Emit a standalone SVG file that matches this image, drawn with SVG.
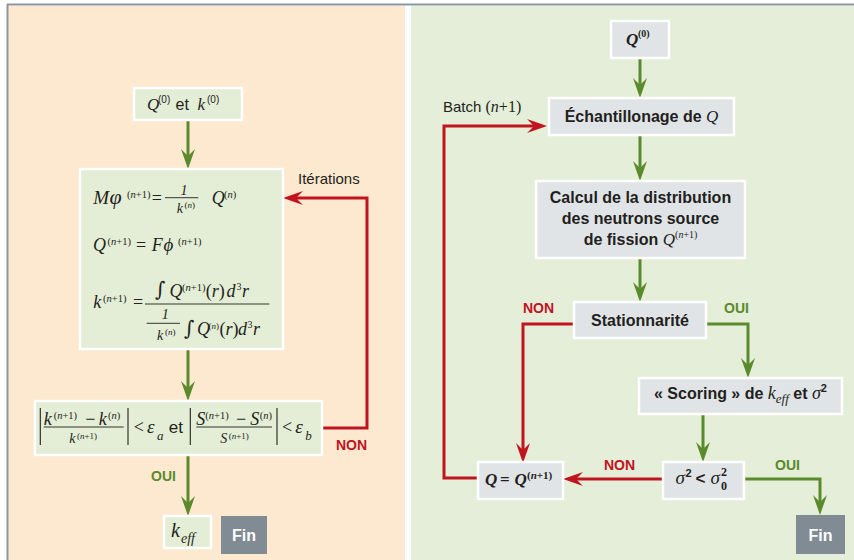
<svg xmlns="http://www.w3.org/2000/svg" width="854" height="560" viewBox="0 0 854 560">
<defs>
<style>
.sans{font-family:'Liberation Sans',Arial,sans-serif;fill:#231f20}
.b{font-weight:bold}
.m{font-family:'Liberation Serif','DejaVu Serif',serif;font-style:italic;fill:#231f20}
.u{font-style:normal}
.int{font-family:'DejaVu Serif',serif;font-style:normal;fill:#231f20}
.boxg{fill:#e4edd6;stroke:#ffffff;stroke-width:2.5}
.boxr{fill:#e1e4e6;stroke:#ffffff;stroke-width:2.5}
.fin{fill:#808b94}
.fint{font-family:'Liberation Sans',Arial,sans-serif;font-weight:bold;fill:#ffffff;font-size:16px}
.g{fill:none;stroke:#5a8a2b;stroke-width:3}
.r{fill:none;stroke:#c0151f;stroke-width:3}
.ln{stroke:#231f20;stroke-width:0.9}
.bar{stroke:#231f20;stroke-width:1.1}
.lbg{font-family:'Liberation Sans',Arial,sans-serif;font-weight:bold;font-size:14px;fill:#5a8a2b}
.lbr{font-family:'Liberation Sans',Arial,sans-serif;font-weight:bold;font-size:14px;fill:#c0151f}
</style>
<marker id="ag" viewBox="-21 -8 22 16" refX="-12" refY="0" markerWidth="22" markerHeight="16" markerUnits="userSpaceOnUse" orient="auto">
<path d="M0,0 L-20,-7 L-13,0 L-20,7 Z" fill="#5a8a2b"/>
</marker>
<marker id="ar" viewBox="-21 -8 22 16" refX="-12" refY="0" markerWidth="22" markerHeight="16" markerUnits="userSpaceOnUse" orient="auto">
<path d="M0,0 L-20,-7 L-13,0 L-20,7 Z" fill="#c0151f"/>
</marker>
</defs>
<rect x="0" y="0" width="854" height="560" fill="#ffffff"/>
<rect x="8" y="6" width="397" height="554" fill="#fde9d0"/>
<rect x="411" y="6" width="443" height="554" fill="#e4eed8"/>
<line x1="7" y1="4.5" x2="854" y2="4.5" stroke="#8c969e" stroke-width="2"/>
<line x1="7.5" y1="4" x2="7.5" y2="560" stroke="#8c969e" stroke-width="2"/>

<g id="connectors">
<path class="g" d="M188,120 V157" marker-end="url(#ag)"/>
<path class="g" d="M188,349 V389" marker-end="url(#ag)"/>
<path class="g" d="M188,455 V504" marker-end="url(#ag)"/>
<path class="r" d="M322,428 H367 V198 H295" marker-end="url(#ar)"/>
<text class="sans" x="298" y="184" font-size="15">Itérations</text>
<text class="lbr" x="336" y="450">NON</text>
<text class="lbg" x="151" y="481">OUI</text>

<path class="g" d="M640,58 V86" marker-end="url(#ag)"/>
<path class="g" d="M640,135 V169" marker-end="url(#ag)"/>
<path class="g" d="M640,258 V290" marker-end="url(#ag)"/>
<path class="g" d="M706,324 H748 V366" marker-end="url(#ag)"/>
<path class="g" d="M703,414 V450" marker-end="url(#ag)"/>
<path class="g" d="M744,479 H820 V503" marker-end="url(#ag)"/>
<path class="r" d="M574,324 H523 V451" marker-end="url(#ar)"/>
<path class="r" d="M663,479 H575" marker-end="url(#ar)"/>
<path class="r" d="M478,478 H444 V126 H535" marker-end="url(#ar)"/>
<text x="443" y="112" font-size="15"><tspan class="sans">Batch </tspan><tspan class="m u" font-size="16">(</tspan><tspan class="m" font-size="16">n</tspan><tspan class="m u" font-size="16">+1)</tspan></text>
<text class="lbr" x="523" y="313">NON</text>
<text class="lbg" x="724" y="313">OUI</text>
<text class="lbr" x="604" y="470">NON</text>
<text class="lbg" x="775" y="470">OUI</text>
</g>

<g id="init">
<rect class="boxg" x="134" y="88" width="108" height="32"/>
<text class="m" x="147" y="109.5" font-size="17">Q</text>
<text class="sans" x="158" y="103" font-size="10">(0)</text>
<text class="sans" x="175.5" y="109.5" font-size="16">et</text>
<text class="m" x="197.5" y="109.5" font-size="17">k</text>
<text class="sans" x="207" y="103" font-size="10">(0)</text>
</g>

<g id="equations">
<rect class="boxg" x="80" y="169" width="203" height="180"/>
<text class="m" x="93.3" y="204" font-size="19">M</text>
<text class="m" x="109.5" y="204" font-size="22">φ</text>
<text class="m" x="127" y="198" font-size="10.5"><tspan class="u">(</tspan>n<tspan class="u">+1)</tspan></text>
<text class="m u" x="151.7" y="204" font-size="18">=</text>
<text class="m" x="180.5" y="195" font-size="14">1</text>
<line class="ln" x1="165" y1="197.7" x2="198.3" y2="197.7"/>
<text class="m" x="176.7" y="212.5" font-size="14">k</text>
<text class="m" x="184.5" y="208" font-size="9"><tspan class="u">(</tspan>n<tspan class="u">)</tspan></text>
<text class="m" x="211.7" y="204" font-size="18">Q</text>
<text class="m" x="224" y="198" font-size="10.5"><tspan class="u">(</tspan>n<tspan class="u">)</tspan></text>

<text class="m" x="93" y="251" font-size="18">Q</text>
<text class="m" x="107.5" y="245" font-size="10.5"><tspan class="u">(</tspan>n<tspan class="u">+1)</tspan></text>
<text class="m u" x="136" y="251" font-size="18">=</text>
<text class="m" x="151.7" y="251" font-size="18">F</text>
<text class="m" x="163.5" y="251" font-size="19">ϕ</text>
<text class="m" x="178" y="245" font-size="10.5"><tspan class="u">(</tspan>n<tspan class="u">+1)</tspan></text>

<text class="m" x="93.3" y="308" font-size="18">k</text>
<text class="m" x="103" y="302" font-size="10.5"><tspan class="u">(</tspan>n<tspan class="u">+1)</tspan></text>
<text class="m u" x="133" y="308" font-size="18">=</text>
<text class="int" x="155" y="296" font-size="20">∫</text>
<text class="m" x="169.5" y="296.5" font-size="18">Q</text>
<text class="m" x="182" y="290.5" font-size="10.5"><tspan class="u">(</tspan>n<tspan class="u">+1)</tspan></text>
<text class="m" x="205.7" y="296.5" font-size="18"><tspan class="u">(</tspan>r<tspan class="u">)</tspan></text>
<text class="m" x="226.5" y="296.5" font-size="18">d</text>
<text class="m u" x="236.5" y="290" font-size="10">3</text>
<text class="m" x="242" y="296.5" font-size="18">r</text>
<line class="ln" x1="145" y1="304" x2="269.3" y2="304"/>
<text class="m" x="161.7" y="319" font-size="14">1</text>
<line class="ln" x1="146.7" y1="323.3" x2="180" y2="323.3"/>
<text class="m" x="157" y="340" font-size="14">k</text>
<text class="m" x="165" y="335" font-size="9"><tspan class="u">(</tspan>n<tspan class="u">)</tspan></text>
<text class="int" x="184" y="335" font-size="20">∫</text>
<text class="m" x="197" y="334.5" font-size="18">Q</text>
<text class="m" x="208.5" y="328.5" font-size="9"><tspan class="u">(</tspan>n<tspan class="u">)</tspan></text>
<text class="m" x="219.5" y="334.5" font-size="18"><tspan class="u">(</tspan>r<tspan class="u">)</tspan></text>
<text class="m" x="238" y="334.5" font-size="18">d</text>
<text class="m u" x="247.5" y="328" font-size="10">3</text>
<text class="m" x="253" y="334.5" font-size="18">r</text>
</g>

<g id="test">
<rect class="boxg" x="35" y="401" width="287" height="54"/>
<line class="bar" x1="40.3" y1="408" x2="40.3" y2="445"/>
<line class="bar" x1="128" y1="408" x2="128" y2="445"/>
<line class="bar" x1="190.3" y1="408" x2="190.3" y2="445"/>
<line class="bar" x1="277" y1="408" x2="277" y2="445"/>
<text class="m" x="43.7" y="424.7" font-size="18">k</text>
<text class="m" x="53.7" y="418.5" font-size="10.5"><tspan class="u">(</tspan>n<tspan class="u">+1)</tspan></text>
<text class="m u" x="85.3" y="424.7" font-size="18">−</text>
<text class="m" x="98.7" y="424.7" font-size="18">k</text>
<text class="m" x="108" y="418.5" font-size="10.5"><tspan class="u">(</tspan>n<tspan class="u">)</tspan></text>
<line class="ln" x1="43.7" y1="427" x2="123.7" y2="427"/>
<text class="m" x="69.3" y="443" font-size="14">k</text>
<text class="m" x="77" y="439" font-size="9"><tspan class="u">(</tspan>n<tspan class="u">+1)</tspan></text>
<text class="m u" x="133.7" y="433" font-size="18">&lt;</text>
<text class="m" x="147" y="433" font-size="19">ε</text>
<text class="m" x="157" y="439.7" font-size="13">a</text>
<text class="sans" x="168.7" y="433" font-size="17">et</text>
<text class="m" x="196.3" y="424.7" font-size="18">S</text>
<text class="m" x="205.3" y="418.5" font-size="10.5"><tspan class="u">(</tspan>n<tspan class="u">+1)</tspan></text>
<text class="m u" x="236" y="424.7" font-size="18">−</text>
<text class="m" x="250.3" y="424.7" font-size="18">S</text>
<text class="m" x="259.7" y="418.5" font-size="10.5"><tspan class="u">(</tspan>n<tspan class="u">)</tspan></text>
<line class="ln" x1="196.3" y1="427" x2="272" y2="427"/>
<text class="m" x="220.3" y="443" font-size="14">S</text>
<text class="m" x="228.7" y="439" font-size="9"><tspan class="u">(</tspan>n<tspan class="u">+1)</tspan></text>
<text class="m u" x="282" y="433" font-size="18">&lt;</text>
<text class="m" x="295.3" y="433" font-size="19">ε</text>
<text class="m" x="305.3" y="439.7" font-size="13">b</text>
</g>

<g id="keff">
<rect class="boxg" x="164" y="516" width="47" height="32"/>
<text class="m" x="171" y="537" font-size="20">k</text>
<text class="m" x="181" y="543" font-size="14">eff</text>
</g>
<g id="fin-left">
<rect class="fin" x="221" y="516" width="46" height="38"/>
<text class="fint" x="244" y="541" text-anchor="middle">Fin</text>
</g>

<g id="q0">
<rect class="boxr" x="611" y="21" width="58" height="37"/>
<text class="m b" x="626" y="45" font-size="17">Q</text>
<text class="m u b" x="638" y="37" font-size="10">(0)</text>
</g>
<g id="echantillonage">
<rect class="boxr" x="549" y="98" width="185" height="37"/>
<text x="641.5" y="122" text-anchor="middle"><tspan class="sans b" font-size="16">Échantillonage de </tspan><tspan class="m" font-size="17">Q</tspan></text>
</g>
<g id="calcul">
<rect class="boxr" x="536" y="181" width="209" height="77"/>
<text class="sans b" x="640.5" y="202.5" font-size="16" text-anchor="middle">Calcul de la distribution</text>
<text class="sans b" x="640.5" y="223.5" font-size="16" text-anchor="middle">des neutrons source</text>
<text x="640.5" y="245" text-anchor="middle"><tspan class="sans b" font-size="16">de fission </tspan><tspan class="m" font-size="17">Q</tspan><tspan class="m u" font-size="10" dy="-7">(</tspan><tspan class="m" font-size="10">n</tspan><tspan class="m u" font-size="10">+1)</tspan></text>
</g>
<g id="stationnarite">
<rect class="boxr" x="574" y="302" width="132" height="36"/>
<text class="sans b" x="640" y="325.5" font-size="16" text-anchor="middle">Stationnarité</text>
</g>
<g id="scoring">
<rect class="boxr" x="639" y="378" width="203" height="36"/>
<text x="740.5" y="398.5" text-anchor="middle"><tspan class="sans b" font-size="16">« Scoring » de </tspan><tspan class="m" font-size="18">k</tspan><tspan class="m" font-size="13" dy="4">eff</tspan><tspan class="sans b" font-size="16" dy="-4"> et </tspan><tspan class="m" font-size="18">σ</tspan><tspan class="sans b" font-size="11" dy="-7">2</tspan></text>
</g>
<g id="test-sigma">
<rect class="boxr" x="663" y="462" width="81" height="37"/>
<text class="m" x="675.5" y="484" font-size="19">σ</text>
<text class="sans b" x="685.5" y="477" font-size="11">2</text>
<text class="sans b" x="695.5" y="484" font-size="17">&lt;</text>
<text class="m" x="710.5" y="484" font-size="19">σ</text>
<text class="m u b" x="721" y="489.5" font-size="12">0</text>
<text class="m u b" x="721" y="475.5" font-size="12">2</text>
</g>
<g id="q-update">
<rect class="boxr" x="478" y="462" width="85" height="37"/>
<text class="m b" x="485" y="485" font-size="17">Q</text>
<text class="m u b" x="500" y="485" font-size="17">=</text>
<text class="m b" x="514.5" y="485" font-size="17">Q</text>
<text class="m b" x="527" y="478.5" font-size="11"><tspan class="u">(</tspan>n<tspan class="u">+1)</tspan></text>
</g>
<g id="fin-right">
<rect class="fin" x="796" y="515" width="49" height="39"/>
<text class="fint" x="820.5" y="541" text-anchor="middle">Fin</text>
</g>
</svg>
